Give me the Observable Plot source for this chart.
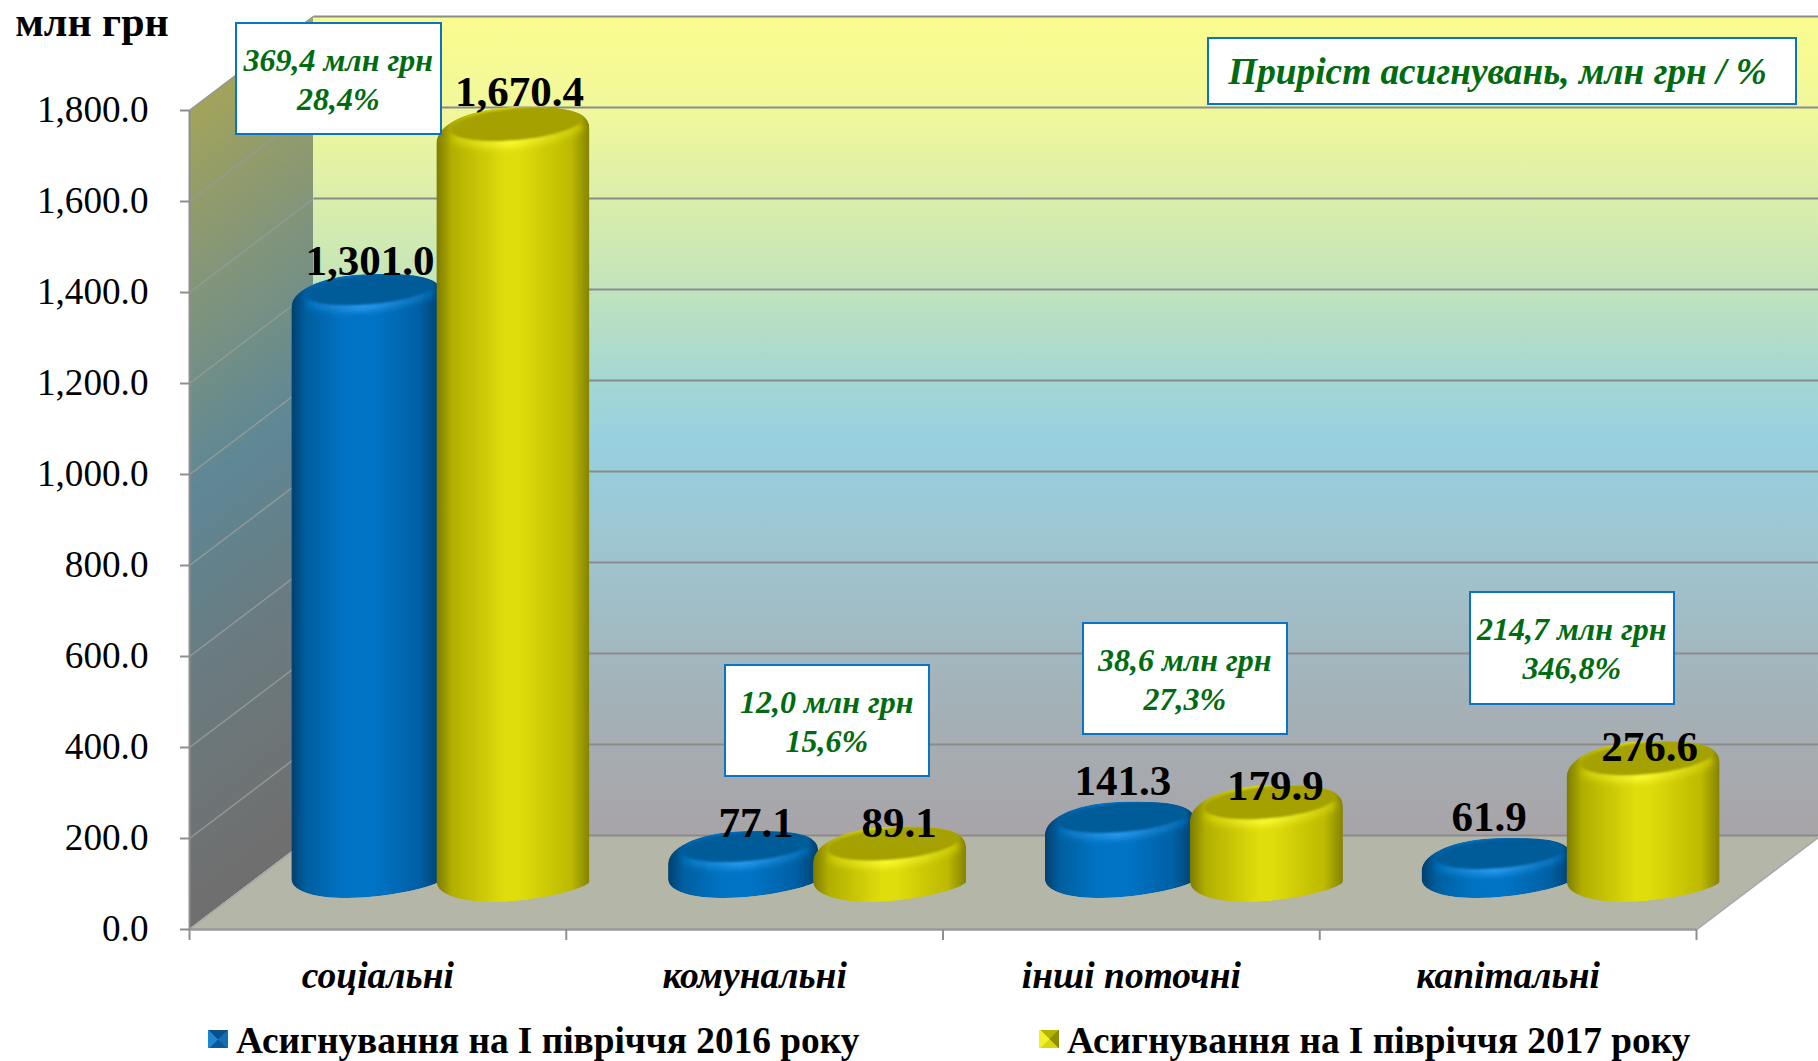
<!DOCTYPE html>
<html>
<head>
<meta charset="utf-8">
<script src="https://cdn.jsdelivr.net/npm/d3@7"></script>
<script src="https://cdn.jsdelivr.net/npm/@observablehq/plot@0.6"></script>
<style>
html,body{margin:0;padding:0;background:#fff;}
body{position:relative;width:1818px;height:1061px;overflow:hidden;font-family:"Liberation Serif",serif;}
#chart svg{display:block;}
.lg{position:absolute;top:1018px;height:40px;line-height:46px;font-weight:bold;font-size:37.3px;color:#000;white-space:nowrap;}
.sw{position:absolute;top:1030px;width:20px;height:18px;}
</style>
</head>
<body>
<div id="chart"></div>
<div class="sw" style="left:208px;background:conic-gradient(from -45deg,#0a4f86 0 25%,#0f6fb4 25% 50%,#0b5a96 50% 75%,#1d86d0 75% 100%);"></div>
<div class="lg" id="lg16" style="left:236px"></div>
<div class="sw" style="left:1039px;background:conic-gradient(from -45deg,#b5b300 0 25%,#8f8d00 25% 50%,#d8d60c 50% 75%,#f2f02a 75% 100%);"></div>
<div class="lg" id="lg17" style="left:1067px"></div>
<script>
// ---------- data ----------
const categories = ["соціальні", "комунальні", "інші поточні", "капітальні"];
const series2016 = [1301.0, 77.1, 141.3, 61.9];
const series2017 = [1670.4, 89.1, 179.9, 276.6];
const seriesNames = ["Асигнування на І півріччя 2016 року", "Асигнування на І півріччя 2017 року"];
const yTicks = [0, 200, 400, 600, 800, 1000, 1200, 1400, 1600, 1800];
const growthAmount = ["369,4 млн грн", "12,0 млн грн", "38,6 млн грн", "214,7 млн грн"];
const growthPercent = ["28,4%", "15,6%", "27,3%", "346,8%"];
const growthTitle = "Приріст асигнувань, млн грн / %";
const unitLabel = "млн грн";

// ---------- layout ----------
const W = 1818, H = 1012;
const X0 = 189, X1 = 1696, Y0 = 929, Y1 = 110;
const catW = (X1 - X0) / 4, pxPerUnit = (Y0 - Y1) / 1800;
const invX = px => (px - X0) / catW;
const invY = px => (Y0 - px) / pxPerUnit;
const depthX = 124 / catW, depthY = 94 / pxPerUnit;

const serif = '"Liberation Serif", serif';
const green = "#006b10";
const boxStroke = "#0a74c4";
const gridColor = "#8b8b8b";

const barLayout = [
  {name: "b", values: series2016, left: -148, right: 2, base: 46.5, ry: 15.5, grad: "url(#bodyBlue)", cap: "#005c98", shine: "url(#shineBlue)",
   nudge: [[3, -16], [12.5, -10.5], [2.5, -24], [-8, -23.5]]},
  {name: "y", values: series2017, left: -3, right: 150, base: 44, ry: 17, grad: "url(#bodyYellow)", cap: "#a4a100", shine: "url(#shineYellow)",
   nudge: [[6, -19], [9, -7.5], [8.5, -4], [6, 1]]}
];
const boxes = [
  [236, 441, 23, 134], [725, 929, 665, 776], [1083, 1287, 623, 734], [1470, 1674, 592, 704]
];

function rowsOf(s) {
  return s.values.map((v, i) => {
    const c = i + 0.5 + depthX / 2;
    return {
      category: categories[i], value: v, i,
      x1: c + s.left / catW, x2: c + s.right / catW,
      y1: s.base / pxPerUnit, y2: s.base / pxPerUnit + v,
      cx: c + (s.left + s.right) / 2 / catW
    };
  });
}

const toPath = pts => "M" + pts.map(p => p.map(n => n.toFixed(1)).join(",")).join("L") + "Z";

// cylinder renderer: each rect, already scaled by Plot, is turned into a tilted rounded cylinder
function cylinder(s) {
  return function (index, scales, ch, dims, ctx, next) {
    const g = next(index, scales, ch, dims, ctx);
    d3.select(g).selectAll("rect").remove();
    const sel = d3.select(g);
    for (const i of index) {
      const xa = ch.x1[i], xb = ch.x2[i], bot = ch.y1[i], top = ch.y2[i];
      const cx = (xa + xb) / 2, hw = (xb - xa) / 2, k = s.ry / 17;
      const X = u => (cx + hw * u).toFixed(1);
      const T = v => (top + k * v).toFixed(1);
      const B = v => (bot + k * v).toFixed(1);
      const leftBottom = Math.max(+B(-4), +T(18));
      const outline =
        `M${X(1)},${B(-3)}` +
        `C${X(0.96)},${B(4)} ${X(0.3)},${B(17)} ${X(-0.25)},${B(17)}` +
        `C${X(-0.68)},${B(17)} ${X(-1)},${B(10)} ${X(-1)},${leftBottom.toFixed(1)}` +
        `L${X(-1)},${T(18)}` +
        `C${X(-1)},${T(-2)} ${X(-0.52)},${T(-18)} ${X(0.08)},${T(-18)}` +
        `C${X(0.52)},${T(-18)} ${X(1)},${T(-18)} ${X(1)},${T(3)}Z`;
      const id = `clip-${s.name}-${i}`;
      sel.append("clipPath").attr("id", id).append("path").attr("d", outline);
      const inner = sel.append("g").attr("clip-path", `url(#${id})`);
      inner.append("path").attr("d", outline).attr("fill", s.grad);
      const ell = (off, kx, ky) => {
        const pts = [];
        for (let j = 0; j < 96; j++) {
          const t = j / 96 * 2 * Math.PI;
          pts.push([cx + 4 * k + kx * hw * Math.cos(t), top - 1 * k + off - 6 * k * Math.cos(t) - ky * k * Math.sin(t)]);
        }
        return toPath(pts);
      };
      // bright crescent under the cap
      inner.append("path").attr("d", ell(9 * k, 0.86, 14)).attr("fill", s.shine).attr("filter", "url(#blur3)");
      // flat top
      inner.append("path").attr("d", ell(0, 0.86, 16)).attr("fill", s.cap).attr("filter", "url(#blur1)");
    }
    return g;
  };
}

const sideWall = [{x: 0, y1: 0, y2: 1800}, {x: depthX, y1: depthY, y2: 1800 + depthY}];
const backWall = [{x: depthX, y1: depthY, y2: 1800 + depthY}, {x: 4 + depthX, y1: depthY, y2: 1800 + depthY}];
const floorRows = [{y: 0, x1: 0, x2: 4}, {y: depthY, x1: depthX, x2: 4 + depthX}];

const textBase = {fontFamily: serif, lineAnchor: "bottom", textAnchor: "middle"};

const marks = [
  Plot.areaY(backWall, {x: "x", y1: "y1", y2: "y2", fill: "url(#wallGrad)"}),
  Plot.areaY(sideWall, {x: "x", y1: "y1", y2: "y2", fill: "url(#sideGrad)"}),
  Plot.areaX(floorRows, {y: "y", x1: "x1", x2: "x2", fill: "#b4b6a7"}),
  Plot.link(yTicks, {x1: depthX, x2: 4 + depthX, y1: d => d + depthY, y2: d => d + depthY, stroke: gridColor, strokeWidth: 2}),
  Plot.link(yTicks.filter(d => d > 0), {x1: 0, x2: depthX, y1: d => d, y2: d => d + depthY, stroke: "#939a98", strokeWidth: 1.5}),
  Plot.link([0], {x1: 0, x2: depthX, y1: 0, y2: depthY, stroke: "#a8a8a8", strokeWidth: 1.5}),
  Plot.link([0], {x1: 4, x2: 4 + depthX, y1: 0, y2: depthY, stroke: "#a8a8a8", strokeWidth: 2}),
  Plot.ruleY([0], {x1: 0, x2: 4, stroke: "#9a9a9a", strokeWidth: 2.5}),
  Plot.ruleX([0], {y1: 0, y2: 1800, stroke: "#8f8f8f", strokeWidth: 2}),
  Plot.axisY({ticks: yTicks, tickFormat: d3.format(",.1f"), tickSize: 9, tickPadding: 32, label: null,
    fontSize: 37.2, fontFamily: serif, fill: "#000", stroke: "#8f8f8f", strokeWidth: 2}),
  Plot.axisX({ticks: [0, 1, 2, 3, 4], tickFormat: () => "", tickSize: 11, label: null, stroke: "#8f8f8f", strokeWidth: 2}),
  Plot.text(categories, {x: (d, i) => i + 0.5, y: invY(987), text: d => d, fontSize: 37.5, fontWeight: "bold", fontStyle: "italic", fill: "#000", ...textBase}),
  ...barLayout.map(s => Plot.rect(rowsOf(s), {x1: "x1", x2: "x2", y1: "y1", y2: "y2", fill: s.cap, render: cylinder(s)})),
  ...barLayout.flatMap(s => rowsOf(s).map(r =>
    Plot.text([r], {x: "cx", y: "y2", text: d => d3.format(",.1f")(d.value), fontSize: 43, fontWeight: "bold", fill: "#000",
      dx: s.nudge[r.i][0], dy: s.nudge[r.i][1], ...textBase}))),
  Plot.rect(boxes, {x1: d => invX(d[0]), x2: d => invX(d[1]), y1: d => invY(d[3]), y2: d => invY(d[2]), fill: "#fff", stroke: boxStroke, strokeWidth: 2}),
  Plot.text(growthAmount, {x: (d, i) => invX((boxes[i][0] + boxes[i][1]) / 2) - 0.002, y: (d, i) => invY(boxes[i][2] + 47.5), text: d => d,
    fontSize: 32, fontWeight: "bold", fontStyle: "italic", fill: green, ...textBase}),
  Plot.text(growthPercent, {x: (d, i) => invX((boxes[i][0] + boxes[i][1]) / 2) - 0.002, y: (d, i) => invY(boxes[i][2] + 86.5), text: d => d,
    fontSize: 32, fontWeight: "bold", fontStyle: "italic", fill: green, ...textBase}),
  Plot.rect([growthTitle], {x1: invX(1208), x2: invX(1796), y1: invY(104), y2: invY(38), fill: "#fff", stroke: boxStroke, strokeWidth: 2}),
  Plot.text([growthTitle], {x: invX(1497), y: invY(83), text: d => d, fontSize: 37.3, fontWeight: "bold", fontStyle: "italic", fill: green, ...textBase}),
  Plot.text([unitLabel], {x: invX(91.5), y: invY(35), text: d => d, fontSize: 42, fontWeight: "bold", fill: "#000", ...textBase})
];

const chart = Plot.plot({
  width: W, height: H,
  marginLeft: X0, marginRight: W - X1, marginTop: Y1, marginBottom: H - Y0,
  x: {type: "linear", domain: [0, 4], axis: null},
  y: {type: "linear", domain: [0, 1800], axis: null},
  style: {fontFamily: serif, background: "transparent", overflow: "hidden"},
  marks
});

chart.insertAdjacentHTML("afterbegin", `<defs>
<linearGradient id="wallGrad" x1="0" y1="0" x2="0" y2="1">
 <stop offset="0" stop-color="#fbfd8e"/><stop offset="0.12" stop-color="#f0f79c"/>
 <stop offset="0.28" stop-color="#cfe9b3"/><stop offset="0.45" stop-color="#a3d6d4"/>
 <stop offset="0.52" stop-color="#97d0e0"/><stop offset="0.68" stop-color="#a0c2cc"/>
 <stop offset="0.85" stop-color="#a4b0b5"/><stop offset="1" stop-color="#a8a4a8"/>
</linearGradient>
<linearGradient id="sideGrad" gradientUnits="userSpaceOnUse" x1="189" y1="110" x2="583" y2="630">
 <stop offset="0" stop-color="#a3a35a"/><stop offset="0.23" stop-color="#82957a"/>
 <stop offset="0.47" stop-color="#5e8796"/><stop offset="0.72" stop-color="#6b7a7e"/>
 <stop offset="1" stop-color="#706e6e"/>
</linearGradient>
<linearGradient id="bodyBlue" x1="0" y1="0" x2="1" y2="0">
 <stop offset="0" stop-color="#00406f"/><stop offset="0.1" stop-color="#005f9f"/>
 <stop offset="0.35" stop-color="#0073c4"/><stop offset="0.55" stop-color="#0074c6"/>
 <stop offset="0.85" stop-color="#0060a5"/><stop offset="1" stop-color="#00406f"/>
</linearGradient>
<linearGradient id="bodyYellow" x1="0" y1="0" x2="1" y2="0">
 <stop offset="0" stop-color="#7d7b00"/><stop offset="0.1" stop-color="#b0ae00"/>
 <stop offset="0.45" stop-color="#e0dd0c"/><stop offset="0.55" stop-color="#dfdc0c"/>
 <stop offset="0.88" stop-color="#bcb900"/><stop offset="1" stop-color="#858300"/>
</linearGradient>
<linearGradient id="shineBlue" x1="0" y1="0" x2="1" y2="0">
 <stop offset="0" stop-color="#0070bd"/><stop offset="0.45" stop-color="#2a9cf0"/><stop offset="1" stop-color="#0068b0"/>
</linearGradient>
<linearGradient id="shineYellow" x1="0" y1="0" x2="1" y2="0">
 <stop offset="0" stop-color="#c8c600"/><stop offset="0.45" stop-color="#fbfb30"/><stop offset="1" stop-color="#c4c200"/>
</linearGradient>
<filter id="blur1" x="-10%" y="-30%" width="120%" height="160%"><feGaussianBlur stdDeviation="1.2"/></filter>
<filter id="blur3" x="-20%" y="-60%" width="140%" height="220%"><feGaussianBlur stdDeviation="3"/></filter>
</defs>`);

document.getElementById("chart").appendChild(chart);
document.getElementById("lg16").textContent = seriesNames[0];
document.getElementById("lg17").textContent = seriesNames[1];
</script>
</body>
</html>
